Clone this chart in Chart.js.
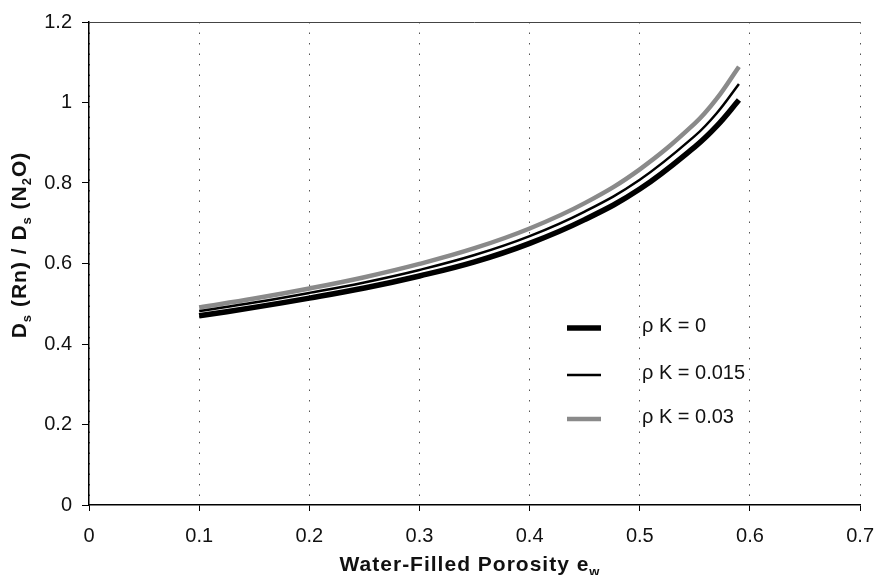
<!DOCTYPE html>
<html>
<head>
<meta charset="utf-8">
<title>Ds(Rn)/Ds(N2O) vs water-filled porosity</title>
<script src="https://cdn.jsdelivr.net/npm/chart.js@4/dist/chart.umd.min.js"></script>
<style>
  html, body { margin: 0; padding: 0; background: #fff; }
  #wrap { width: 887px; height: 575px; }
</style>
</head>
<body>
<div id="wrap"><canvas id="chart" width="887" height="575"></canvas></div>
<script>
// ── data ─────────────────────────────────────────────────
const porosity = [0.1, 0.15, 0.2, 0.25, 0.3, 0.35, 0.4, 0.45, 0.5, 0.55, 0.57, 0.59];
const ratioK0    = [0.470, 0.491, 0.514, 0.539, 0.569, 0.604, 0.650, 0.709, 0.785, 0.890, 0.942, 1.006];
const ratioK015  = [0.482, 0.503, 0.527, 0.553, 0.584, 0.621, 0.668, 0.729, 0.808, 0.917, 0.974, 1.046];
const ratioK03   = [0.491, 0.513, 0.538, 0.566, 0.599, 0.638, 0.687, 0.750, 0.834, 0.948, 1.010, 1.089];
const seriesLabels = ['ρ K = 0', 'ρ K = 0.015', 'ρ K = 0.03'];
const xTicks = [0, 0.1, 0.2, 0.3, 0.4, 0.5, 0.6, 0.7];
const yTicks = [0, 0.2, 0.4, 0.6, 0.8, 1, 1.2];

const FONT = "'Liberation Sans', Arial, Helvetica, sans-serif";
Chart.defaults.font.family = FONT;
Chart.defaults.font.size = 20;
Chart.defaults.color = '#111';

const toPoints = ys => porosity.map((x, i) => ({ x, y: ys[i] }));
const fmt = v => String(Number(v.toFixed(1)));

// draws a string made of plain + subscript pieces, centred on (x, baseline)
function drawRich(ctx, parts, x, y, size) {
  const big = `bold ${size}px ${FONT}`;
  const small = `bold ${Math.round(size * 0.62)}px ${FONT}`;
  ctx.letterSpacing = '1px';
  let w = 0;
  parts.forEach(p => { ctx.font = p.sub ? small : big; w += ctx.measureText(p.t).width; });
  let cx = x - w / 2;
  ctx.textAlign = 'left';
  ctx.textBaseline = 'alphabetic';
  parts.forEach(p => {
    ctx.font = p.sub ? small : big;
    ctx.fillText(p.t, cx, p.sub ? y + 5 : y);
    cx += ctx.measureText(p.t).width;
  });
  ctx.letterSpacing = '0px';
}

const decor = {
  id: 'decor',
  afterDraw(chart) {
    const { ctx, chartArea: a } = chart;
    ctx.save();

    // top frame line
    ctx.strokeStyle = '#444';
    ctx.lineWidth = 1;
    ctx.beginPath();
    ctx.moveTo(a.left, a.top + 0.5);
    ctx.lineTo(a.right, a.top + 0.5);
    ctx.stroke();

    // legend inside the plot
    const rows = [328, 375, 419];
    chart.data.datasets.forEach((ds, i) => {
      ctx.strokeStyle = ds.borderColor;
      ctx.lineWidth = ds.borderWidth;
      ctx.beginPath();
      ctx.moveTo(567, rows[i]);
      ctx.lineTo(601, rows[i]);
      ctx.stroke();
      ctx.fillStyle = '#111';
      ctx.font = `20px ${FONT}`;
      ctx.textAlign = 'left';
      ctx.textBaseline = 'middle';
      ctx.fillText(ds.label, 642, rows[i] - 2);
    });

    // axis titles
    ctx.fillStyle = '#111';
    drawRich(ctx, [
      { t: 'Water-Filled Porosity e' }, { t: 'w', sub: true }
    ], 470, 571, 21);

    ctx.translate(26, 245);
    ctx.rotate(-Math.PI / 2);
    drawRich(ctx, [
      { t: 'D' }, { t: 's', sub: true }, { t: ' (Rn) / D' }, { t: 's', sub: true },
      { t: ' (N' }, { t: '2', sub: true }, { t: 'O)' }
    ], 0, 0, 21);

    ctx.restore();
  }
};

new Chart(document.getElementById('chart'), {
  type: 'line',
  data: {
    datasets: [
      { label: seriesLabels[0], data: toPoints(ratioK0),   borderColor: '#000',    borderWidth: 5.5 },
      { label: seriesLabels[1], data: toPoints(ratioK015), borderColor: '#000',    borderWidth: 2.5 },
      { label: seriesLabels[2], data: toPoints(ratioK03),  borderColor: '#8a8a8a', borderWidth: 4.5 },
    ],
  },
  options: {
    responsive: false,
    animation: false,
    devicePixelRatio: 1,
    layout: { padding: { left: 0, top: 20, right: 18, bottom: 0 } },
    elements: {
      point: { radius: 0 },
      line: { tension: 0.4, fill: false, borderCapStyle: 'butt' },
    },
    plugins: { legend: { display: false }, tooltip: { enabled: false } },
    scales: {
      x: {
        type: 'linear',
        min: 0, max: 0.7,
        afterBuildTicks: s => { s.ticks = xTicks.map(v => ({ value: v })); },
        afterFit: s => { s.height = 70; },
        ticks: { padding: 13, callback: fmt, maxRotation: 0 },
        grid: {
          drawOnChartArea: true, color: '#555', lineWidth: 1,
          tickLength: 6, tickColor: '#000', tickWidth: 1,
        },
        border: { color: '#000', width: 1.5, dash: [1.5, 9] },
      },
      y: {
        type: 'linear',
        min: 0, max: 1.2,
        afterBuildTicks: s => { s.ticks = yTicks.map(v => ({ value: v })); },
        afterFit: s => { s.width = 89; },
        ticks: { padding: 10, callback: fmt },
        grid: { drawOnChartArea: false, tickLength: 7, tickColor: '#000', color: '#000' },
        border: { color: '#000', width: 1.5 },
      },
    },
  },
  plugins: [decor],
});
</script>
</body>
</html>
